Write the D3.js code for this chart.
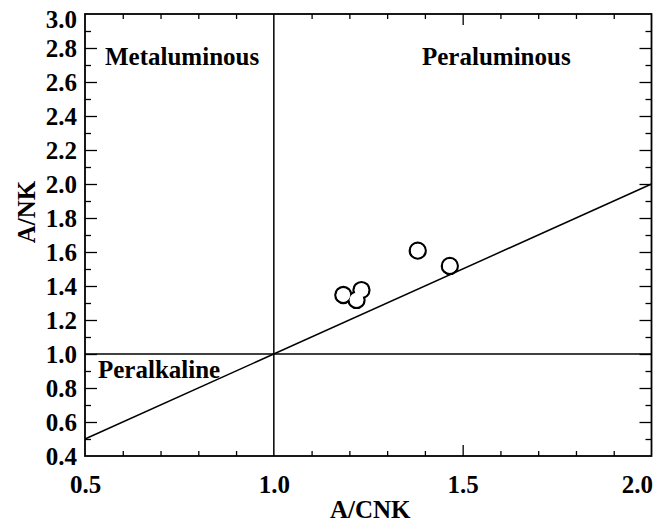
<!DOCTYPE html>
<html>
<head>
<meta charset="utf-8">
<script src="https://cdn.jsdelivr.net/npm/d3@7"></script>
<style>
  body { margin: 0; background: #fff; }
  text { font-family: "Liberation Serif", "Times New Roman", serif; font-weight: bold; fill: #000; }
</style>
</head>
<body>
<div id="chart"></div>
<script>
// sample points (A/CNK, A/NK)
const sampleX = [1.184, 1.232, 1.219, 1.381, 1.466];
const sampleY = [1.347, 1.376, 1.318, 1.608, 1.518];

const xTicks = [0.5, 1.0, 1.5, 2.0];
const yTicks = [0.4, 0.6, 0.8, 1.0, 1.2, 1.4, 1.6, 1.8, 2.0, 2.2, 2.4, 2.6, 2.8, 3.0];
const xMinor = [0.6, 0.7, 0.8, 0.9, 1.1, 1.2, 1.3, 1.4, 1.6, 1.7, 1.8, 1.9];
const yMinor = [0.5, 0.7, 0.9, 1.1, 1.3, 1.5, 1.7, 1.9, 2.1, 2.3, 2.5, 2.7, 2.9];

// field boundaries
const boundaryA = [[0.5, 0.5], [2.0, 2.0]];   // A/NK = A/CNK
const boundaryB = [[0.5, 1.0], [2.0, 1.0]];   // A/NK = 1
const boundaryC = [[1.0, 0.4], [1.0, 3.0]];   // A/CNK = 1

const fieldNames = ["Metaluminous", "Peraluminous", "Peralkaline"];

const width = 666, height = 523;
const mLeft = 85, mRight = 651.5, mTop = 14, mBottom = 456;

const svg = d3.select("#chart")
    .append("svg")
    .attr("width", width)
    .attr("height", height);

const x = d3.scaleLinear().domain([0.5, 2.0]).range([mLeft, mRight]);
const y = d3.scaleLinear().domain([0.4, 3.0]).range([mBottom, mTop]);

// ticks, all pointing inward
function ticks(axis, vals, len) {
    return axis.tickValues(vals).tickSize(-len).tickFormat("");
}
svg.append("g").attr("transform", `translate(0,${mBottom})`).call(ticks(d3.axisBottom(x), xMinor, 5));
svg.append("g").attr("transform", `translate(0,${mBottom})`).call(ticks(d3.axisBottom(x), [1.5], 11));
svg.append("g").attr("transform", `translate(0,${mTop})`).call(ticks(d3.axisTop(x), xMinor, 5));
svg.append("g").attr("transform", `translate(0,${mTop})`).call(ticks(d3.axisTop(x), [1.5], 11));
svg.append("g").attr("transform", `translate(${mLeft},0)`).call(ticks(d3.axisLeft(y), yMinor, 6));
svg.append("g").attr("transform", `translate(${mLeft},0)`).call(ticks(d3.axisLeft(y), yTicks.slice(1, -1), 12));
svg.append("g").attr("transform", `translate(${mRight},0)`).call(ticks(d3.axisRight(y), yMinor, 6));
svg.append("g").attr("transform", `translate(${mRight},0)`).call(ticks(d3.axisRight(y), yTicks.slice(1, -1), 12));
svg.selectAll(".domain").remove();
svg.selectAll(".tick line").attr("stroke", "#000").attr("stroke-width", 1.3);

// tick labels
const xl = svg.append("g").attr("transform", `translate(0,${mBottom})`)
    .call(d3.axisBottom(x).tickValues(xTicks).tickSize(0).tickPadding(19).tickFormat(d3.format(".1f")));
xl.select(".domain").remove();
xl.selectAll("text").attr("font-size", 25).attr("fill", "#000")
    .attr("font-family", "Liberation Serif, serif").attr("font-weight", "bold");
xl.selectAll(".tick").filter(d => d === 2.0).select("text").attr("text-anchor", "end").attr("x", 1);

const yl = svg.append("g").attr("transform", `translate(${mLeft},0)`)
    .call(d3.axisLeft(y).tickValues(yTicks).tickSize(0).tickPadding(8).tickFormat(d3.format(".1f")));
yl.select(".domain").remove();
yl.selectAll("text").attr("font-size", 25).attr("fill", "#000")
    .attr("font-family", "Liberation Serif, serif").attr("font-weight", "bold");
yl.selectAll(".tick").filter(d => d === 3.0).select("text").attr("y", 5);

// frame
svg.append("rect")
    .attr("x", mLeft).attr("y", mTop)
    .attr("width", mRight - mLeft).attr("height", mBottom - mTop)
    .attr("fill", "none").attr("stroke", "#000").attr("stroke-width", 1.8);

// boundary lines
const line = d3.line().x(d => x(d[0])).y(d => y(d[1]));
[boundaryA, boundaryB, boundaryC].forEach(b => {
    svg.append("path").attr("d", line(b))
        .attr("fill", "none").attr("stroke", "#000").attr("stroke-width", 1.5);
});

// samples: outline of the merged circles
const pts = sampleX.map((v, i) => [v, sampleY[i]]);
svg.append("g").selectAll("circle").data(pts).enter().append("circle")
    .attr("cx", d => x(d[0])).attr("cy", d => y(d[1])).attr("r", 8)
    .attr("fill", "#fff").attr("stroke", "#000").attr("stroke-width", 2.3);
svg.append("g").selectAll("circle").data(pts).enter().append("circle")
    .attr("cx", d => x(d[0])).attr("cy", d => y(d[1])).attr("r", 6.85)
    .attr("fill", "#fff");

// field names
svg.append("text").attr("x", 105).attr("y", 65).attr("font-size", 25).text(fieldNames[0]);
svg.append("text").attr("x", 422).attr("y", 65).attr("font-size", 25).text(fieldNames[1]);
svg.append("text").attr("x", 98).attr("y", 378).attr("font-size", 25).text(fieldNames[2]);

// axis titles
svg.append("text").attr("x", (mLeft + mRight) / 2 + 2).attr("y", 518)
    .attr("text-anchor", "middle").attr("font-size", 25).text("A/CNK");
svg.append("text").attr("transform", "translate(35,212) rotate(-90)")
    .attr("text-anchor", "middle").attr("font-size", 25).text("A/NK");
</script>
</body>
</html>
